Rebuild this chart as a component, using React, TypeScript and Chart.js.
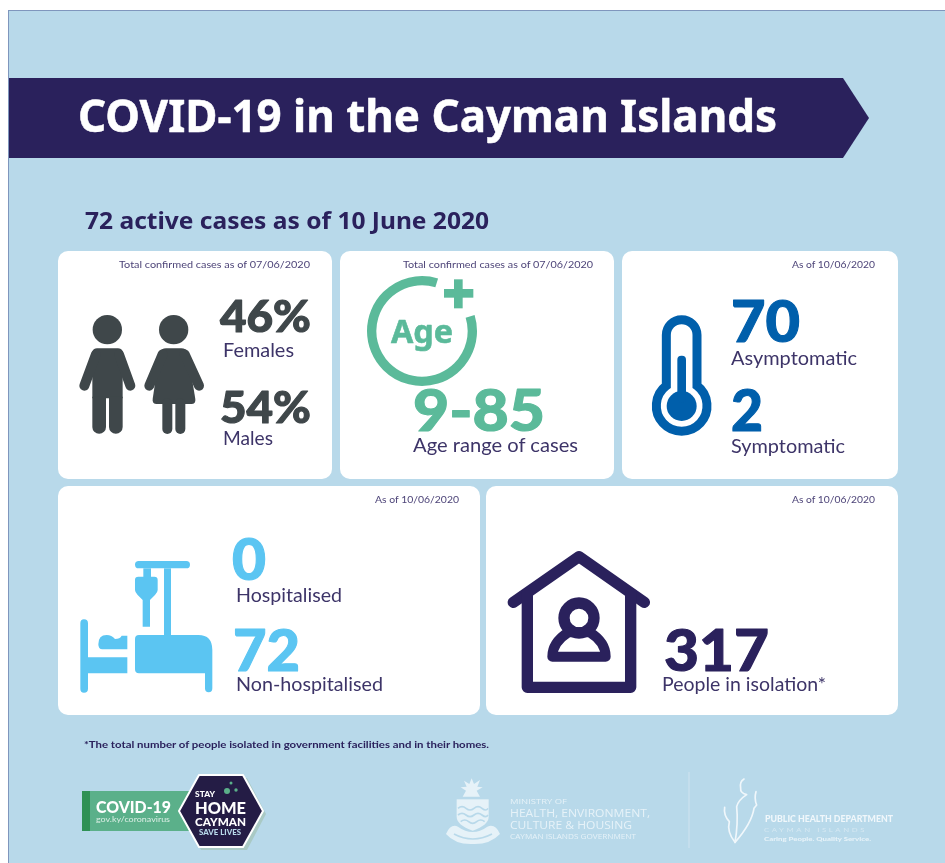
import React, { useEffect, useRef } from "react";
import { Chart, registerables } from "chart.js";

Chart.register(...registerables);

// ---- data ----
const titleText = "COVID-19 in the Cayman Islands";
const subtitleText = "72 active cases as of 10 June 2020";
const confirmedNote = "Total confirmed cases as of 07/06/2020";
const statusNote = "As of 10/06/2020";
const genderLabels = ["Females", "Males"];
const genderValues = [46, 54];
const ageRangeLabel = "Age range of cases";
const ageRange = [9, 85];
const ageRingLabels = ["gap", "ring"];
const ageRingValues = [56, 304];
const symptomLabels = ["Asymptomatic", "Symptomatic"];
const symptomValues = [70, 2];
const hospitalLabels = ["Hospitalised", "Non-hospitalised"];
const hospitalValues = [0, 72];
const isolationLabel = "People in isolation*";
const isolationValue = 317;
const footnote = "*The total number of people isolated in government facilities and in their homes.";

const NAVY = "#2a215c";
const INK = "#3d3468";
const NOTE = "#4d4478";
const GREY = "#3f474a";
const GREEN = "#5bba9a";
const BLUE = "#005fab";
const SKY = "#5bc5f2";
const PANEL = "#b8d9ea";
const PALE = "#e6f2f8";

const BODY = "Lato, sans-serif";
const HEAD = "'Noto Sans', sans-serif";
const LOGO = "'Open Sans', sans-serif";

function T(p: { x: number; y: number; size: number; w?: number; fill: string; weight?: number; font?: string; anchor?: string; children: React.ReactNode; spacing?: number; thick?: number }) {
  return (
    <text
      x={p.x}
      y={p.y}
      fontSize={p.size}
      fill={p.fill}
      fontWeight={p.weight ?? 400}
      fontFamily={p.font ?? BODY}
      textAnchor={p.anchor ?? "start"}
      letterSpacing={p.spacing}
      {...(p.thick ? { stroke: p.fill, strokeWidth: p.thick, strokeLinejoin: "round" } : {})}
      {...(p.w ? { textLength: p.w, lengthAdjust: "spacingAndGlyphs" } : {})}
    >
      {p.children}
    </text>
  );
}

function AgeRing() {
  const ref = useRef<HTMLCanvasElement>(null);
  useEffect(() => {
    if (!ref.current) return;
    const chart = new Chart(ref.current, {
      type: "doughnut",
      data: {
        labels: ageRingLabels,
        datasets: [
          {
            data: ageRingValues,
            backgroundColor: ["rgba(0,0,0,0)", GREEN],
            borderWidth: 0,
          },
        ],
      },
      options: {
        responsive: false,
        animation: false,
        rotation: 17,
        cutout: "83%",
        layout: { padding: 5 },
        plugins: { legend: { display: false }, tooltip: { enabled: false } },
      },
    });
    return () => chart.destroy();
  }, []);
  return (
    <canvas
      ref={ref}
      width={120}
      height={120}
      style={{ position: "absolute", left: 362, top: 271, width: 120, height: 120 }}
    />
  );
}

const cards = [
  [58, 251, 274, 228],
  [340, 251, 274, 228],
  [622, 251, 276, 228],
  [58, 486, 422, 229],
  [486, 486, 412, 229],
];

const NUM = 1.1;

export default function App() {
  return (
    <div style={{ position: "absolute", left: 0, top: 0, width: 945, height: 863, overflow: "hidden", background: "#fff" }}>
      <div style={{ position: "absolute", left: 8, top: 10, width: 937, height: 853, background: PANEL, borderTop: "1px solid #7f96bd", borderLeft: "1px solid #7f96bd", boxSizing: "border-box" }} />
      <svg width={945} height={863} style={{ position: "absolute", left: 0, top: 0 }}>
        <polygon points="9,78 843,78 869,118 843,158 9,158" fill={NAVY} />
        {cards.map((c, i) => (
          <rect key={i} x={c[0]} y={c[1]} width={c[2]} height={c[3]} rx={10} fill="#fff" />
        ))}
      </svg>
      <AgeRing />
      <svg width={945} height={863} style={{ position: "absolute", left: 0, top: 0 }}>
        <T x={78} y={132} size={44} w={699} weight={700} font={HEAD} fill="#fff" thick={0.5}>{titleText}</T>
        <T x={85} y={229} size={24} w={404} weight={700} font={HEAD} fill={NAVY}>{subtitleText}</T>

        {/* card 1 */}
        <T x={119} y={268} size={10} w={191} fill={NOTE}>{confirmedNote}</T>
        <T x={220} y={332} size={43} w={91} weight={900} fill={GREY} thick={NUM}>{genderValues[0]}%</T>
        <T x={223} y={357} size={19} w={71} fill={INK}>{genderLabels[0]}</T>
        <T x={220} y={423} size={43} w={91} weight={900} fill={GREY} thick={NUM}>{genderValues[1]}%</T>
        <T x={223} y={445} size={19} w={50} fill={INK}>{genderLabels[1]}</T>
        <g transform="translate(50,245) scale(0.33333)" fill={GREY}>
          <circle cx={172} cy={254} r={44} />
          <path d="M141 310 H204 Q214 310 218 320 V460 H127 V320 Q131 310 141 310 Z" />
          <path d="M127 455 H168 V546 A20.5 20.5 0 0 1 127 546 Z" />
          <path d="M177 455 H218 V546 A20.5 20.5 0 0 1 177 546 Z" />
          <line x1={138} y1={328} x2={103} y2={422} stroke={GREY} strokeWidth={30} strokeLinecap="round" />
          <line x1={207} y1={328} x2={241} y2={422} stroke={GREY} strokeWidth={30} strokeLinecap="round" />
          <circle cx={371} cy={254} r={44} />
          <path d="M348 310 H394 Q408 310 413 322 L436 462 Q438 477 424 477 H320 Q306 477 308 462 L329 322 Q334 310 348 310 Z" />
          <rect x={337} y={460} width={30} height={107} rx={15} />
          <rect x={376} y={460} width={30} height={107} rx={15} />
          <line x1={338} y1={328} x2={298} y2={422} stroke={GREY} strokeWidth={30} strokeLinecap="round" />
          <line x1={404} y1={328} x2={447} y2={422} stroke={GREY} strokeWidth={30} strokeLinecap="round" />
        </g>

        {/* card 2 */}
        <T x={403} y={268} size={10} w={190} fill={NOTE}>{confirmedNote}</T>
        <g transform="translate(340,245) scale(0.33333)" fill={GREEN}>
          <rect x={312} y={132} width={88} height={26} />
          <rect x={342} y={103} width={26} height={87} />
        </g>
        <T x={391} y={343} size={32} w={62} weight={700} font={HEAD} fill={GREEN} thick={0.6}>Age</T>
        <T x={413} y={431} size={58} w={132} weight={900} fill={GREEN} thick={NUM}>{ageRange[0]}-{ageRange[1]}</T>
        <T x={413} y={452} size={19} w={165} fill={INK}>{ageRangeLabel}</T>

        {/* card 3 */}
        <T x={792} y={268} size={10} w={83} fill={NOTE}>{statusNote}</T>
        <g transform="translate(620,245) scale(0.33333)">
          <path d="M139 422 V270 A46 46 0 0 1 231 270 V422 A76 76 0 1 1 139 422 Z" fill="none" stroke={BLUE} strokeWidth={27} />
          <circle cx={185} cy={483} r={45} fill={BLUE} />
          <rect x={172} y={332} width={26} height={140} rx={12} fill={BLUE} />
        </g>
        <T x={731} y={342} size={58} w={69} weight={900} fill={BLUE} thick={NUM}>{symptomValues[0]}</T>
        <T x={731} y={365} size={19} w={126} fill={INK}>{symptomLabels[0]}</T>
        <T x={731} y={431} size={58} w={32} weight={900} fill={BLUE} thick={NUM}>{symptomValues[1]}</T>
        <T x={731} y={453} size={19} w={114} fill={INK}>{symptomLabels[1]}</T>

        {/* card 4 */}
        <T x={375} y={503} size={10} w={84} fill={NOTE}>{statusNote}</T>
        <g transform="translate(55,485) scale(0.33333)" fill={SKY}>
          <rect x={240} y={228} width={165} height={22} rx={11} />
          <rect x={327} y={250} width={21} height={210} />
          <rect x={265} y={250} width={23} height={30} />
          <path d="M250 275 H298 Q308 275 308 285 V315 Q308 322 300 330 L285 345 V425 H263 V345 L248 330 Q240 322 240 315 V285 Q240 275 250 275 Z" />
          <path d="M252 450 H430 Q472 450 472 495 V610 Q472 622 461 622 Q450 622 450 610 V565 H252 Q240 565 240 553 V462 Q240 450 252 450 Z" />
          <path d="M87 403 Q99 403 99 415 V517 H217 V565 H99 V611 Q99 623 87 623 Q76 623 76 611 V415 Q76 403 87 403 Z" />
          <path d="M130 478 Q130 450 155 450 Q170 450 180 462 Q195 462 200 452 H217 V493 H142 Q130 493 130 478 Z" />
        </g>
        <T x={232} y={580} size={58} w={34} weight={900} fill={SKY} thick={NUM}>{hospitalValues[0]}</T>
        <T x={236} y={602} size={19} w={106} fill={INK}>{hospitalLabels[0]}</T>
        <T x={233} y={671} size={58} w={67} weight={900} fill={SKY} thick={NUM}>{hospitalValues[1]}</T>
        <T x={236} y={691} size={19} w={147} fill={INK}>{hospitalLabels[1]}</T>

        {/* card 5 */}
        <T x={792} y={503} size={10} w={83} fill={NOTE}>{statusNote}</T>
        <g transform="translate(485,485) scale(0.33333)" fill="none" stroke={NAVY} strokeWidth={34} strokeLinecap="round" strokeLinejoin="round">
          <path d="M85 352 L282 215 L478 352" />
          <path d="M127 325 V607 H437 V325" />
          <circle cx={282} cy={399} r={45} />
          <path d="M202 515 C202 480 225 458 250 442 L314 442 C340 458 362 480 362 515 Z" strokeWidth={30} />
        </g>
        <T x={664} y={671} size={58} w={105} weight={900} fill={NAVY} thick={NUM}>{isolationValue}</T>
        <T x={662} y={691} size={19} w={164} fill={INK}>{isolationLabel}</T>

        <T x={84} y={748} size={10} w={405} weight={700} fill={NAVY}>{footnote}</T>

        {/* footer, stay home badge */}
        <rect x={82} y={791} width={110} height={40} fill="#5bb08a" />
        <rect x={82} y={791} width={8} height={40} fill="#2f9155" />
        <T x={96} y={813} size={16} w={75} weight={900} fill="#fff">COVID-19</T>
        <T x={96} y={822} size={8} w={74} fill="#dcefe6">gov.ky/coronavirus</T>
        <polygon points="181,814 201,778 247,778 266,814 247,850 201,850" fill="#a9c9c4" />
        <polygon points="179,811 199,775 243,775 263,811 243,847 199,847" fill={"#241c45"} stroke="#fff" strokeWidth={2} strokeLinejoin="round" />
        <circle cx={227} cy={791} r={3} fill="#5bb08a" />
        <circle cx={236} cy={790} r={1.7} fill="#5bb08a" />
        <circle cx={231} cy={783} r={1.5} fill="#5bb08a" />
        <T x={195} y={797} size={7} w={20} weight={900} fill="#fff">STAY</T>
        <T x={195} y={814} size={17} w={51} weight={900} fill="#fff">HOME</T>
        <T x={195} y={826} size={12} w={51} weight={900} fill="#fff">CAYMAN</T>
        <T x={199} y={835} size={7} w={42} weight={900} fill="#b8d9ea">SAVE LIVES</T>

        {/* footer, ministry crest (zoom coordinates) */}
        <g transform="translate(430,760) scale(0.33333)">
          <path d="M125 55 L132 72 L150 60 L142 80 L158 82 L140 92 L150 110 H98 L108 92 L92 82 L110 80 L102 62 L118 72 Z" fill={PALE} />
          <rect x={80} y={118} width={96} height={8} fill={PALE} />
          <path d="M80 126 H176 V170 Q176 195 128 212 Q80 195 80 170 Z" fill={PALE} />
          <g fill="none" stroke={PANEL} strokeWidth={5}>
            <path d="M84 145 Q96 135 108 145 T132 145 T156 145 T174 145" />
            <path d="M84 165 Q96 155 108 165 T132 165 T156 165 T174 165" />
            <path d="M92 185 Q104 175 116 185 T140 185 T164 185" />
          </g>
          <path d="M48 222 Q62 190 84 200 Q128 232 172 200 Q196 190 210 222 Q180 254 128 252 Q76 254 48 222 Z" fill={PALE} />
          <path d="M72 222 Q128 252 186 222" fill="none" stroke={PANEL} strokeWidth={5} />
        </g>
        <T x={510} y={804} size={7.5} w={57} font={LOGO} fill={PALE}>MINISTRY OF</T>
        <T x={510} y={817} size={11} w={140} font={LOGO} fill={PALE}>HEALTH, ENVIRONMENT,</T>
        <T x={510} y={829} size={11} w={122} font={LOGO} fill={PALE}>CULTURE &amp; HOUSING</T>
        <T x={510} y={839} size={7} w={126} font={LOGO} fill={PALE}>CAYMAN ISLANDS GOVERNMENT</T>
        <rect x={688.5} y={772} width={1} height={76} fill="#cfe4f0" />

        {/* footer, public health (zoom coordinates) */}
        <g transform="translate(430,760) scale(0.33333)" fill="none" stroke="#f0f7fb" strokeWidth={5} strokeLinejoin="round" strokeLinecap="round">
          <path d="M942 57 Q928 65 932 85 Q930 98 950 104 Q925 120 920 140 Q925 190 915 247" />
          <path d="M978 95 Q972 115 980 135 L972 145 Q965 190 915 247 Q890 215 898 185 Q880 165 884 142" />
        </g>
        <T x={765} y={822} size={10} w={128} weight={900} fill="#f0f7fb">PUBLIC HEALTH DEPARTMENT</T>
        <T x={764} y={832} size={6} w={103} fill="#d5e8f2" spacing={2}>CAYMAN ISLANDS</T>
        <T x={764} y={841} size={6} w={107} weight={900} fill={PALE}>Caring People. Quality Service.</T>
      </svg>
    </div>
  );
}
